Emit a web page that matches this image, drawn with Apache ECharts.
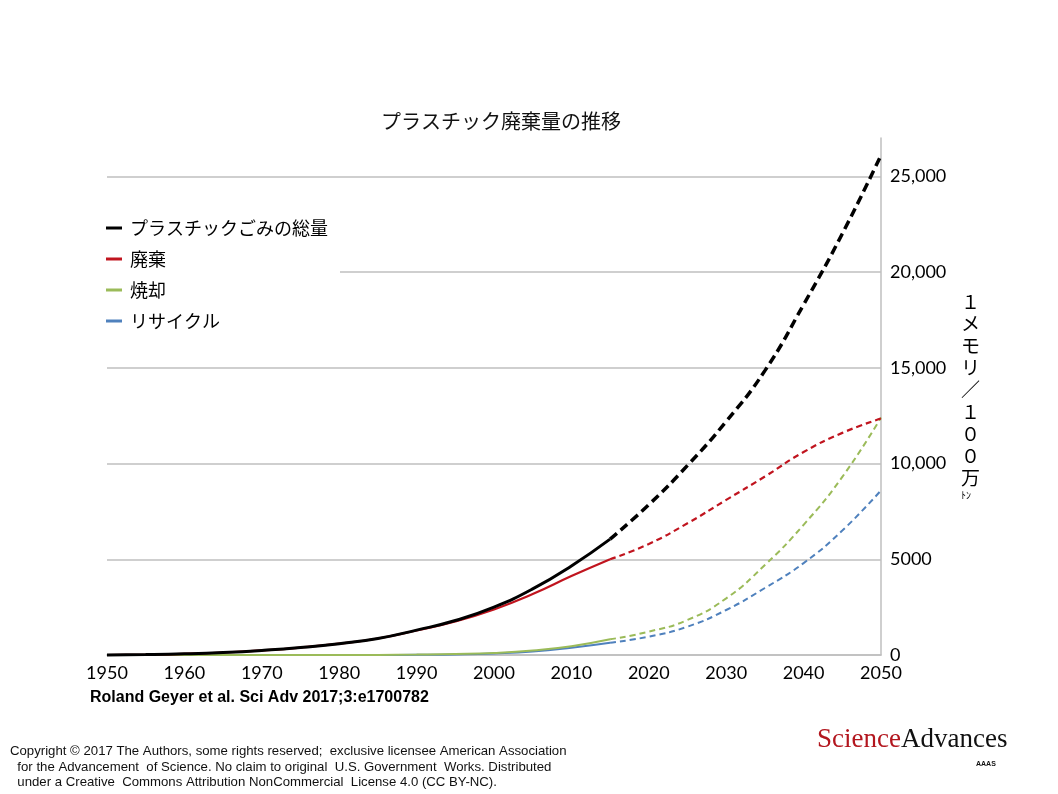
<!DOCTYPE html>
<html>
<head>
<meta charset="utf-8">
<script src="https://cdn.jsdelivr.net/npm/echarts@6/dist/echarts.min.js"></script>
<style>
    html, body { margin: 0; padding: 0; background: #fff; }
    #chart { width: 1058px; height: 794px; }
</style>
</head>
<body>
<div id="chart"></div>
<script>
// 実績（1950〜2015）
const yearsActual = [1950, 1955, 1960, 1965, 1970, 1975, 1980, 1985, 1990, 1995, 2000, 2005, 2010, 2015]
const totalActual = [0, 20, 60, 130, 240, 390, 590, 860, 1300, 1800, 2500, 3450, 4650, 6050]
const discardActual = [0, 20, 60, 130, 240, 390, 590, 860, 1280, 1750, 2380, 3180, 4120, 5000]
const incinActual = [0, 0, 0, 0, 0, 0, 0, 5, 20, 50, 110, 240, 460, 820]
const recycleActual = [0, 0, 0, 0, 0, 0, 0, 0, 10, 30, 80, 180, 380, 640]

// 予測（2015〜2050）
const yearsForecast = [2015, 2020, 2025, 2030, 2035, 2040, 2045, 2050]
const totalForecast = [6050, 7850, 9900, 12200, 14850, 18300, 22000, 26100]
const discardForecast = [5000, 5800, 6880, 8100, 9320, 10600, 11600, 12350]
const incinForecast = [820, 1220, 1830, 2960, 4700, 6800, 9300, 12400]
const recycleForecast = [640, 960, 1480, 2350, 3500, 4800, 6500, 8600]

const seriesNames = ['プラスチックごみの総量', '廃棄', '焼却', 'リサイクル']
const seriesColors = ['#000000', '#c0141e', '#9bbb59', '#4f81bd']
const seriesWidths = [3, 2.2, 2, 2]

const yTicks = [0, 5000, 10000, 15000, 20000, 25000]

const jp = '"Noto Sans CJK JP", sans-serif'
const num = 'Lato, "Noto Sans", sans-serif'

function pairs(xs, ys) {
    return xs.map((x, i) => [x, ys[i]])
}

let chart = echarts.init(document.getElementById('chart'))

let actual = [totalActual, discardActual, incinActual, recycleActual]
let forecast = [totalForecast, discardForecast, incinForecast, recycleForecast]

let series = []
seriesNames.forEach((name, i) => {
    series.push({
        name: name,
        type: 'line',
        smooth: 0.5,
        showSymbol: false,
        clip: false,
        z: 10 - i,
        lineStyle: { color: seriesColors[i], width: seriesWidths[i] },
        itemStyle: { color: seriesColors[i] },
        data: pairs(yearsActual, actual[i])
    })
})
seriesNames.forEach((name, i) => {
    series.push({
        name: name,
        type: 'line',
        smooth: 0.5,
        showSymbol: false,
        clip: false,
        z: 10 - i,
        lineStyle: {
            color: seriesColors[i],
            width: i === 0 ? 3.5 : seriesWidths[i],
            type: i === 0 ? [9, 5] : [6, 4]
        },
        itemStyle: { color: seriesColors[i] },
        data: pairs(yearsForecast, forecast[i])
    })
})

let option = {
    animation: false,
    backgroundColor: '#fff',
    title: {
        text: 'プラスチック廃棄量の推移',
        left: 376,
        top: 106,
        textStyle: { fontFamily: jp, fontSize: 20, fontWeight: 'normal', color: '#111' }
    },
    legend: {
        data: seriesNames,
        orient: 'vertical',
        left: 98,
        top: 215,
        width: 236,
        padding: [4, 12, 4, 8],
        backgroundColor: '#fff',
        itemGap: 13,
        itemWidth: 16,
        itemHeight: 3,
        icon: 'rect',
        z: 20,
        textStyle: { fontFamily: jp, fontSize: 18, color: '#000', padding: [0, 0, 0, 3] }
    },
    grid: {
        left: 107,
        right: 177,
        top: 138,
        bottom: 139
    },
    xAxis: {
        type: 'value',
        min: 1950,
        max: 2050,
        interval: 10,
        axisLine: { show: true, lineStyle: { color: '#bfbfbf', width: 1.5 } },
        axisTick: { show: false },
        splitLine: { show: false },
        axisLabel: {
            margin: 9,
            fontFamily: num,
            fontSize: 18,
            color: '#000',
            formatter(v) {
                return String(v)
            }
        }
    },
    yAxis: {
        type: 'value',
        position: 'right',
        min: 0,
        max: 27000,
        interval: 5000,
        axisLine: { show: true, lineStyle: { color: '#bfbfbf', width: 1.5 } },
        axisTick: { show: false },
        splitLine: {
            show: true,
            lineStyle: {
                color: yTicks.map(() => '#bfbfbf').concat(['rgba(0,0,0,0)']),
                width: 1.5
            }
        },
        axisLabel: {
            margin: 9,
            fontFamily: num,
            fontSize: 18,
            color: '#000',
            formatter(v) {
                if (yTicks.indexOf(v) < 0) return ''
                return v >= 10000 ? v.toLocaleString('en-US') : String(v)
            }
        },
        name: '１\nメ\nモ\nリ\n／\n１\n０\n０\n万\n{s|ﾄﾝ}',
        nameLocation: 'middle',
        nameRotate: 0,
        nameGap: 80,
        nameTextStyle: {
            fontFamily: jp,
            fontSize: 19,
            lineHeight: 22,
            color: '#000',
            rich: {
                s: { fontFamily: jp, fontSize: 10, lineHeight: 14, color: '#000' }
            }
        }
    },
    graphic: [
        {
            type: 'text',
            left: 90,
            top: 690,
            style: {
                text: 'Roland Geyer et al. Sci Adv 2017;3:e1700782',
                fontFamily: '"Liberation Sans", Arial, sans-serif',
                fontSize: 16,
                fontWeight: 'bold',
                fill: '#000'
            }
        },
        {
            type: 'text',
            left: 10,
            top: 744,
            style: {
                text: 'Copyright © 2017 The Authors, some rights reserved;  exclusive licensee American Association\n  for the Advancement  of Science. No claim to original  U.S. Government  Works. Distributed\n  under a Creative  Commons Attribution NonCommercial  License 4.0 (CC BY-NC).',
                fontFamily: '"Liberation Sans", Arial, sans-serif',
                fontSize: 13.2,
                lineHeight: 15.5,
                fill: '#111'
            }
        },
        {
            type: 'text',
            left: 817,
            top: 726,
            style: {
                text: '{r|Science}{k|Advances}',
                rich: {
                    r: { fontFamily: '"Liberation Serif", "DejaVu Serif", serif', fontSize: 27, fill: '#b3161e' },
                    k: { fontFamily: '"Liberation Serif", "DejaVu Serif", serif', fontSize: 27, fill: '#111' }
                }
            }
        },
        {
            type: 'text',
            left: 976,
            top: 761,
            style: {
                text: 'AAAS',
                fontFamily: '"Liberation Sans", Arial, sans-serif',
                fontSize: 7,
                fontWeight: 'bold',
                fill: '#111'
            }
        }
    ],
    series: series
}

chart.setOption(option)
</script>
</body>
</html>
